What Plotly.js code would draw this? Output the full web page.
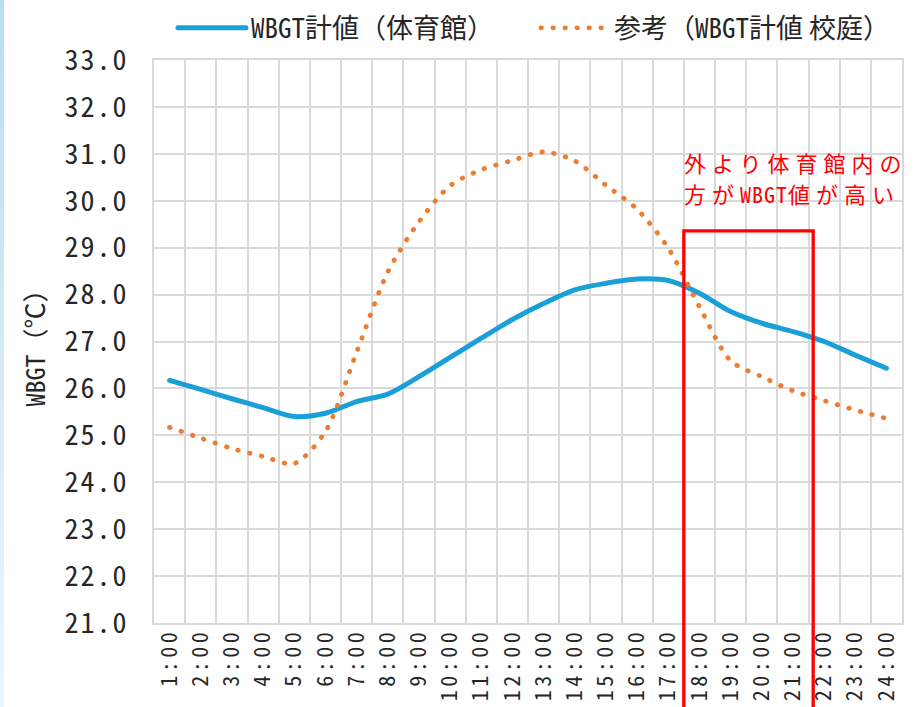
<!DOCTYPE html>
<html>
<head>
<meta charset="utf-8">
<script src="https://cdn.plot.ly/plotly-3.0.1.min.js"></script>
<style>
html,body{margin:0;padding:0;background:#ffffff;}
#chart{width:915px;height:707px;}
#strip{position:absolute;left:0;top:0;width:4px;height:707px;background:linear-gradient(#b8ddf3,#eef6fd);z-index:10;}
.main-svg text{font-feature-settings:"hwid" 1;}
.main-svg text.legendtext, .main-svg text.annotation-text, .main-svg text.ytitle{font-feature-settings:normal;}
.main-svg .xtick text{letter-spacing:3.5px;}
.main-svg .ytick text{letter-spacing:2px;}
.main-svg text.annotation-text{letter-spacing:6px;}
.js-line, .legendlines path{stroke-linecap:round;}
</style>
</head>
<body>
<div id="strip"></div>
<div id="chart"></div>
<script>
// Categories (hours)
const hours = ["1:00","2:00","3:00","4:00","5:00","6:00","7:00","8:00","9:00","10:00","11:00","12:00",
               "13:00","14:00","15:00","16:00","17:00","18:00","19:00","20:00","21:00","22:00","23:00","24:00"];
// WBGT measured in the gym
const gymWBGT = [26.17, 25.98, 25.78, 25.59, 25.40, 25.47, 25.72, 25.88, 26.25, 26.66, 27.07, 27.47,
                 27.81, 28.10, 28.24, 28.33, 28.30, 28.03, 27.64, 27.39, 27.21, 27.00, 26.71, 26.43];
// Reference: WBGT measured in the schoolyard
const yardWBGT = [25.17, 24.94, 24.72, 24.55, 24.40, 25.08, 26.77, 28.48, 29.55, 30.32, 30.66, 30.86,
                  31.04, 30.85, 30.33, 29.82, 28.99, 27.74, 26.59, 26.25, 25.95, 25.74, 25.54, 25.36];
const HW = "<span style='font-feature-settings:\"hwid\" 1'>WBGT</span>";
const HWnote = "<span style='font-feature-settings:\"hwid\" 1;letter-spacing:1px'>WBGT</span>";
const seriesNames = [HW + "計値（体育館）", "参考（" + HW + "計値 校庭）"];
const yTitle = HW + "（℃）";
const yRange = [21, 33];
// Highlight box (category index span and top value)
const boxX = [16.5, 20.65];
const boxTop = 29.36;
const noteLines = ["外より体育館内の", "方が" + HWnote + "値が高い"];

const FONT = '"Noto Sans CJK JP", "Noto Sans", sans-serif';
const grid = '#d9d9d9';

const traces = [
  {
    x: hours, y: gymWBGT, name: seriesNames[0], type: 'scatter', mode: 'lines',
    line: {color: '#1a9fd8', width: 5, shape: 'spline', smoothing: 0.8}
  },
  {
    x: hours, y: yardWBGT, name: seriesNames[1], type: 'scatter', mode: 'lines',
    line: {color: '#ed7d31', width: 4.8, shape: 'spline', smoothing: 0.8, dash: '0.5px,11.5px'}
  }
];

const layout = {
  width: 915, height: 707,
  margin: {l: 154, r: 13, t: 60, b: 84},
  paper_bgcolor: '#ffffff', plot_bgcolor: '#ffffff',
  font: {family: FONT, color: '#262626'},
  showlegend: true,
  legend: {
    orientation: 'h', xref: 'container', x: 0.189, xanchor: 'left',
    yref: 'container', y: 0.96, yanchor: 'middle',
    font: {family: FONT, size: 27, color: '#262626'}, itemwidth: 68,
    entrywidth: 280, entrywidthmode: 'pixels',
    bgcolor: 'rgba(0,0,0,0)'
  },
  xaxis: {
    type: 'category', tickson: 'boundaries', tickangle: -90,
    showgrid: true, gridcolor: grid, gridwidth: 2,
    showline: true, linecolor: grid, linewidth: 2, mirror: true,
    ticks: '', zeroline: false, ticklabelstandoff: -5,
    tickfont: {family: FONT, size: 22, color: '#262626'},
    range: [-0.5, 23.5], fixedrange: true
  },
  yaxis: {
    range: yRange, dtick: 1, tick0: 21, tickformat: '.1f',
    showgrid: true, gridcolor: grid, gridwidth: 2,
    showline: true, linecolor: grid, linewidth: 2, mirror: true,
    ticks: '', zeroline: false, ticklabelstandoff: 18,
    tickfont: {family: FONT, size: 28, color: '#262626'},
    title: {text: yTitle, font: {family: FONT, size: 26, color: '#262626'}, standoff: 21},
    automargin: false
  },
  shapes: [
    {
      type: 'rect', xref: 'x', yref: 'paper',
      x0: boxX[0], x1: boxX[1],
      y0: -0.3, y1: (boxTop - yRange[0]) / (yRange[1] - yRange[0]),
      line: {color: '#ff0000', width: 3.3}, fillcolor: 'rgba(0,0,0,0)', layer: 'above'
    }
  ],
  annotations: [
    {
      text: noteLines[0], xref: 'paper', yref: 'paper', x: 0.706, y: 0.819,
      xanchor: 'left', yanchor: 'middle', align: 'left', showarrow: false,
      font: {family: FONT, size: 22, color: '#ff0000'}
    },
    {
      text: noteLines[1], xref: 'paper', yref: 'paper', x: 0.706, y: 0.764,
      xanchor: 'left', yanchor: 'middle', align: 'left', showarrow: false,
      font: {family: FONT, size: 22, color: '#ff0000'}
    }
  ]
};

Plotly.newPlot('chart', traces, layout, {displayModeBar: false, staticPlot: true});
</script>
</body>
</html>
